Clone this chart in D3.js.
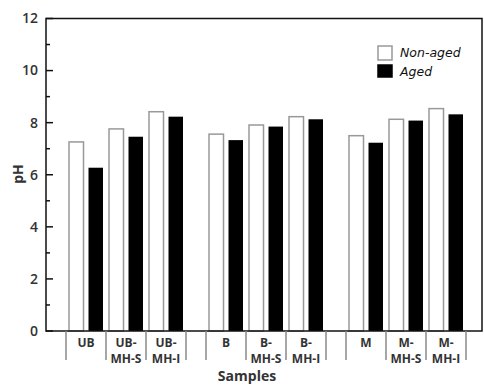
<!DOCTYPE html>
<html>
<head>
<meta charset="utf-8">
<script src="https://cdn.jsdelivr.net/npm/d3@7"></script>
<style>
  body { margin: 0; background: #fff; }
  text { font-family: "Open Sans", sans-serif; }
</style>
</head>
<body>
<div id="chart"></div>
<script>
// samples, in plotted order
var samples = ["UB", "UB-MH-S", "UB-MH-I", "B", "B-MH-S", "B-MH-I", "M", "M-MH-S", "M-MH-I"];
var sampleLabels = [["UB"], ["UB-", "MH-S"], ["UB-", "MH-I"], ["B"], ["B-", "MH-S"], ["B-", "MH-I"], ["M"], ["M-", "MH-S"], ["M-", "MH-I"]];
var nonAged = [7.26, 7.76, 8.42, 7.56, 7.91, 8.23, 7.5, 8.13, 8.54];
var aged = [6.27, 7.46, 8.23, 7.33, 7.85, 8.13, 7.23, 8.08, 8.32];
var yTicks = [0, 2, 4, 6, 8, 10, 12];
var yMinor = [1, 3, 5, 7, 9, 11];

var W = 484, H = 386;
var plotLeft = 46, plotRight = 482, plotTop = 18.5, plotBottom = 331;

var svg = d3.select("#chart").append("svg")
    .attr("width", W)
    .attr("height", H);

// slot position: each sample one slot, half a slot gap between groups of three
function slot(i) {
    return i + 0.5 * Math.floor(i / 3);
}

var x = d3.scaleLinear().domain([-1, 9.9]).range([plotLeft, plotRight]);
var y = d3.scaleLinear().domain([0, 12]).range([plotBottom, plotTop]);

var barW = 14.5, gap = 5;

// bars
var g = svg.append("g");
g.selectAll(".nonaged")
    .data(nonAged)
    .enter()
    .append("rect")
    .attr("x", function (d, i) { return x(slot(i)) - gap / 2 - barW; })
    .attr("y", function (d) { return y(d); })
    .attr("width", barW)
    .attr("height", function (d) { return plotBottom - y(d); })
    .attr("fill", "#fff")
    .attr("stroke", "#999")
    .attr("stroke-width", 1.5);

g.selectAll(".aged")
    .data(aged)
    .enter()
    .append("rect")
    .attr("x", function (d, i) { return x(slot(i)) + gap / 2; })
    .attr("y", function (d) { return y(d); })
    .attr("width", barW)
    .attr("height", function (d) { return plotBottom - y(d); })
    .attr("fill", "#000");

// frame
svg.append("rect")
    .attr("x", plotLeft)
    .attr("y", plotTop)
    .attr("width", plotRight - plotLeft)
    .attr("height", plotBottom - plotTop)
    .attr("fill", "none")
    .attr("stroke", "#111")
    .attr("stroke-width", 1.5);

// y axis ticks (inward)
svg.selectAll(".ytick")
    .data(yTicks)
    .enter()
    .append("line")
    .attr("x1", plotLeft)
    .attr("x2", plotLeft + 7)
    .attr("y1", function (d) { return y(d); })
    .attr("y2", function (d) { return y(d); })
    .attr("stroke", "#111")
    .attr("stroke-width", 1.5);

svg.selectAll(".yminor")
    .data(yMinor)
    .enter()
    .append("line")
    .attr("x1", plotLeft)
    .attr("x2", plotLeft + 4)
    .attr("y1", function (d) { return y(d); })
    .attr("y2", function (d) { return y(d); })
    .attr("stroke", "#111")
    .attr("stroke-width", 1.5);

svg.selectAll(".ylabel")
    .data(yTicks)
    .enter()
    .append("text")
    .attr("x", plotLeft - 8)
    .attr("y", function (d) { return y(d); })
    .attr("dy", "0.35em")
    .attr("text-anchor", "end")
    .attr("font-size", 14)
    .attr("font-weight", 600)
    .attr("fill", "#333")
    .text(function (d) { return d; });

// category ticks: slot boundaries
var bounds = [];
samples.forEach(function (s, i) {
    bounds.push(slot(i) - 0.5);
    if (i % 3 === 2) bounds.push(slot(i) + 0.5);
});
svg.selectAll(".xtick")
    .data(bounds)
    .enter()
    .append("line")
    .attr("x1", function (d) { return x(d); })
    .attr("x2", function (d) { return x(d); })
    .attr("y1", plotBottom)
    .attr("y2", plotBottom + 29)
    .attr("stroke", "#888")
    .attr("stroke-width", 1.5);

var lab = svg.selectAll(".xlabel")
    .data(sampleLabels)
    .enter()
    .append("text")
    .attr("text-anchor", "middle")
    .attr("font-size", 12)
    .attr("font-weight", 700)
    .attr("fill", "#333");
lab.each(function (lines, i) {
    var t = d3.select(this);
    lines.forEach(function (l, k) {
        t.append("tspan")
            .attr("x", x(slot(i)))
            .attr("y", plotBottom + 16 + k * 16)
            .text(l);
    });
});

// axis titles
svg.append("text")
    .attr("x", 247)
    .attr("y", 381)
    .attr("text-anchor", "middle")
    .attr("font-size", 14)
    .attr("font-weight", 700)
    .attr("fill", "#333")
    .text("Samples");

svg.append("text")
    .attr("transform", "translate(23,174) rotate(-90)")
    .attr("text-anchor", "middle")
    .attr("font-size", 14)
    .attr("font-weight", 700)
    .attr("fill", "#333")
    .text("pH");

// legend
var legend = [
    { name: "Non-aged", fill: "#fff", stroke: "#999" },
    { name: "Aged", fill: "#000", stroke: "#000" }
];
var lg = svg.selectAll(".legend")
    .data(legend)
    .enter()
    .append("g")
    .attr("transform", function (d, i) { return "translate(378," + (46 + i * 19) + ")"; });
lg.append("rect")
    .attr("width", 14)
    .attr("height", function (d, i) { return i === 0 ? 14 : 12; })
    .attr("fill", function (d) { return d.fill; })
    .attr("stroke", function (d) { return d.stroke; })
    .attr("stroke-width", 1.5);
lg.append("text")
    .attr("x", 22)
    .attr("y", 11)
    .attr("font-size", 12.5)
    .style("font-style", "italic")
    .style("font-family", "'DejaVu Sans', sans-serif")
    .attr("fill", "#111")
    .text(function (d) { return d.name; });
</script>
</body>
</html>
